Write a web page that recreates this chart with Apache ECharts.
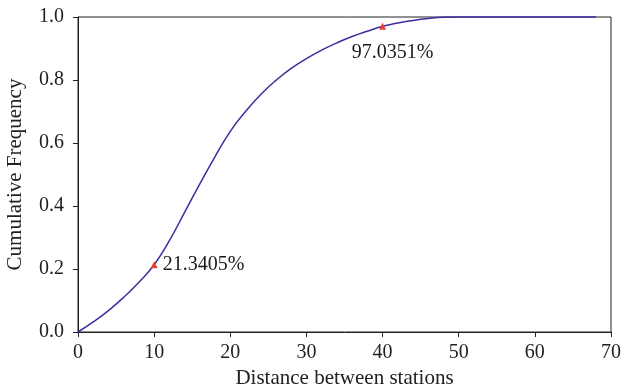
<!DOCTYPE html>
<html>
<head>
<meta charset="utf-8">
<script src="https://cdn.jsdelivr.net/npm/echarts@6/dist/echarts.min.js"></script>
<style>html,body{margin:0;padding:0;background:#fff}#c{width:622px;height:391px}</style>
</head>
<body>
<div id="c"></div>
<script>
var distances = [0, 2, 4, 6, 8, 10, 12, 14, 16, 18, 20, 22, 24, 26, 28, 30, 32, 34, 36, 38, 40, 42, 44, 46, 48, 50, 55, 60, 65, 68];
var cumFreq = [0, 0.032, 0.068, 0.11, 0.158, 0.2134, 0.29, 0.38, 0.47, 0.557, 0.637, 0.70, 0.754, 0.799, 0.837, 0.868, 0.895, 0.918, 0.938, 0.955, 0.9704, 0.981, 0.989, 0.995, 0.999, 1.0, 1.0, 1.0, 1.0, 1.0];
var markX = [10, 40];
var markY = [0.213405, 0.970351];
var markLabels = ['21.3405%', '97.0351%'];
var xTicks = [0, 10, 20, 30, 40, 50, 60, 70];
var yTicks = ['0.0', '0.2', '0.4', '0.6', '0.8', '1.0'];

var FONT = 'Liberation Serif';
var labelStyle = {fontFamily: FONT, fontSize: 20, color: '#1a1a1a', opacity: 1, textBorderWidth: 0};
var chart = echarts.init(document.getElementById('c'));
chart.setOption({
  animation: false,
  backgroundColor: '#fff',
  grid: {left: 78, right: 11, top: 17, bottom: 59, containLabel: false, outerBoundsMode: 'none',
    show: true, borderColor: '#222', borderWidth: 1},
  xAxis: {
    type: 'value', min: 0, max: 70, interval: 10,
    name: 'Distance between stations', nameLocation: 'middle', nameGap: 36,
    nameTextStyle: {fontFamily: FONT, fontSize: 21, color: '#222'},
    axisLine: {lineStyle: {color: '#222', width: 1}},
    axisTick: {show: true, length: 5, lineStyle: {color: '#222'}},
    axisLabel: {fontFamily: FONT, fontSize: 20, color: '#222', margin: 11},
    splitLine: {show: false}
  },
  yAxis: {
    type: 'value', min: 0, max: 1, interval: 0.2,
    name: 'Cumulative Frequency', nameLocation: 'middle', nameGap: 52,
    nameTextStyle: {fontFamily: FONT, fontSize: 21, color: '#222'},
    axisLine: {show: true, lineStyle: {color: '#222', width: 1}},
    axisTick: {show: true, length: 5, lineStyle: {color: '#222'}},
    axisLabel: {fontFamily: FONT, fontSize: 20, color: '#222', margin: 14,
      formatter: function (v) { return yTicks[Math.round(v / 0.2)]; }},
    splitLine: {show: false}
  },
  series: [
    {
      type: 'line', smooth: 0.5, showSymbol: false, clip: false,
      data: distances.map(function (d, i) { return [d, cumFreq[i]]; }),
      lineStyle: {color: '#3a2f9e', width: 1.5}
    },
    {
      type: 'scatter', symbol: 'triangle', symbolSize: 7, z: 5,
      itemStyle: {color: '#e8412c', opacity: 1},
      data: [
        {value: [markX[0], markY[0]], label: Object.assign({show: true, position: 'right', distance: 5, formatter: markLabels[0]}, labelStyle)},
        {value: [markX[1], markY[1]], label: Object.assign({show: true, position: 'bottom', distance: 13, offset: [10, 0], formatter: markLabels[1]}, labelStyle)}
      ]
    }
  ]
});
</script>
</body>
</html>
